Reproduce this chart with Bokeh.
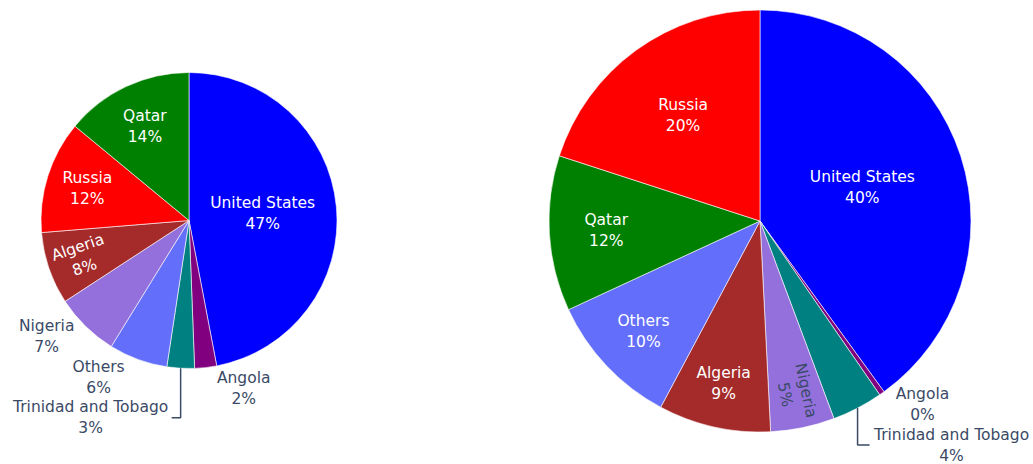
import math
from bokeh.plotting import figure
from bokeh.models import ColumnDataSource, Range1d
from bokeh.core.properties import value
from bokeh.embed import file_html
from bokeh.resources import INLINE

W, H = 1033, 464

# ---- data (shares in percent, clockwise from 12 o'clock) ----
countries_left = ["United States", "Angola", "Trinidad and Tobago", "Others",
                  "Nigeria", "Algeria", "Russia", "Qatar"]
shares_left = [47.0, 2.4, 3.0, 6.4, 7.0, 7.9, 12.3, 14.0]

countries_right = ["United States", "Angola", "Trinidad and Tobago", "Nigeria",
                   "Algeria", "Others", "Qatar", "Russia"]
shares_right = [40.0, 0.4, 3.9, 4.9, 8.6, 10.3, 11.9, 20.0]

colors = {
    "United States": "#0000ff", "Angola": "#800080", "Trinidad and Tobago": "#008080",
    "Others": "#636efa", "Nigeria": "#9370db", "Algeria": "#a52a2a",
    "Russia": "#ff0000", "Qatar": "#008000",
}

# ---- styling / layout ----
FONT = value("DejaVu Sans")
FS = "15.5px"
LH = 1.17
TXT_DARK = "#3a4a66"
LIGHT_BG = {"Nigeria"}  # slices whose inside text is dark

left_layout = dict(
    cx=188.5, cy=220, r=148,
    inside={"United States": (0.50, False), "Qatar": (0.70, False),
            "Russia": (0.72, False), "Algeria": (0.77, True)},
    outside={"Nigeria": (-39, 10.5, None), "Others": (-39.4, 18, None),
             "Trinidad and Tobago": (-90, 49.5, -9), "Angola": (38, 21, None)},
)
right_layout = dict(
    cx=759.5, cy=220.5, r=211,
    inside={"United States": (0.51, False), "Russia": (0.62, False),
            "Qatar": (0.73, False), "Others": (0.76, False),
            "Algeria": (0.79, False), "Nigeria": (0.83, True)},
    outside={"Angola": (40.6, 11.3, None), "Trinidad and Tobago": (94, 37, 12)},
)

p = figure(width=W, height=H, x_range=Range1d(0, W), y_range=Range1d(0, H),
           output_backend="svg", toolbar_location=None, min_border=0)
p.axis.visible = False
p.grid.visible = False
p.outline_line_color = None
p.background_fill_color = "white"
p.border_fill_color = "white"


def draw_pie(names, shares, lay):
    cx, cy_s, r = lay["cx"], lay["cy"], lay["r"]
    cy = H - cy_s
    total = sum(shares)
    starts, ends, cols, mids = [], [], [], []
    cum = 0.0
    for n, v in zip(names, shares):
        f0 = cum / total
        cum += v
        f1 = cum / total
        starts.append(math.pi / 2 - 2 * math.pi * f1)
        ends.append(math.pi / 2 - 2 * math.pi * f0)
        cols.append(colors[n])
        mids.append(2 * math.pi * (f0 + f1) / 2)  # clockwise from top
    src = ColumnDataSource(dict(x=[cx] * len(names), y=[cy] * len(names),
                                s=starts, e=ends, c=cols))
    p.wedge(x="x", y="y", radius=r, start_angle="s", end_angle="e",
            direction="anticlock", fill_color="c", line_color="white",
            line_width=0.6, source=src)

    for n, v, th in zip(names, shares, mids):
        label = f"{n}\n{round(v / total * 100)}%"
        sx, sy = math.sin(th), math.cos(th)  # outward dir, y-up
        if n in lay["inside"]:
            frac, rot = lay["inside"][n]
            x = cx + frac * r * sx
            y = cy + frac * r * sy
            ang = 0.0
            if rot:
                ang = math.atan2(sy, sx)
                if sx < 0:
                    ang = math.atan2(-sy, -sx)
            tc = TXT_DARK if n in LIGHT_BG else "white"
            p.text(x=[x], y=[y], text=[label], angle=ang, text_color=tc,
                   text_font=FONT, text_font_size=FS, text_align="center",
                   text_baseline="middle", text_line_height=LH)
        else:
            dx, dy, lead = lay["outside"][n]
            ex = cx + r * sx
            ey = cy + r * sy
            lx = ex + dx
            ly = ey - dy
            if lead is not None:
                p.line(x=[ex, ex, ex + lead], y=[ey, ly, ly],
                       line_color=TXT_DARK, line_width=1.5)
            p.text(x=[lx], y=[ly], text=[label], text_color=TXT_DARK,
                   text_font=FONT, text_font_size=FS, text_align="center",
                   text_baseline="middle", text_line_height=LH)


draw_pie(countries_left, shares_left, left_layout)
draw_pie(countries_right, shares_right, right_layout)

open("out.html", "w").write(file_html(p, INLINE))
